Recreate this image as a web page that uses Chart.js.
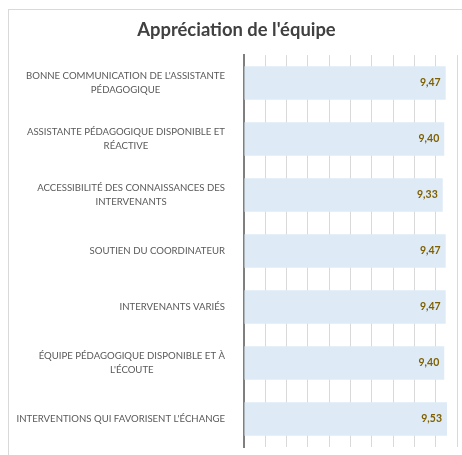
<!DOCTYPE html>
<html>
<head>
<meta charset="utf-8">
<script src="https://cdn.jsdelivr.net/npm/chart.js@4"></script>
<style>
  body { margin: 0; background: #fff; }
  #frame { position: absolute; left: 8px; top: 9px; width: 470px; height: 470px; border: 1px solid #d9d9d9; }
  #wrap { position: absolute; left: 0; top: 0; width: 462px; height: 455px; }
</style>
</head>
<body>
<div id="frame"></div>
<div id="wrap"><canvas id="chart"></canvas></div>
<script>
const categories = [
    ["BONNE COMMUNICATION DE L'ASSISTANTE", "PÉDAGOGIQUE"],
    ["ASSISTANTE PÉDAGOGIQUE DISPONIBLE ET", "RÉACTIVE"],
    ["ACCESSIBILITÉ DES CONNAISSANCES DES", "INTERVENANTS"],
    ["SOUTIEN DU COORDINATEUR"],
    ["INTERVENANTS VARIÉS"],
    ["ÉQUIPE PÉDAGOGIQUE DISPONIBLE ET À", "L'ÉCOUTE"],
    ["INTERVENTIONS QUI FAVORISENT L'ÉCHANGE"]
];
const scores = [9.47, 9.40, 9.33, 9.47, 9.47, 9.40, 9.53];
const chartTitle = "Appréciation de l'équipe";

const labelFont = "9.6px Lato";

// category labels: block right-aligned, lines centered inside the block
const categoryLabels = {
    id: "categoryLabels",
    afterDraw(chart) {
        const ctx = chart.ctx;
        const yScale = chart.scales.y;
        const right = 225;
        ctx.save();
        ctx.font = labelFont;
        ctx.fillStyle = "#595959";
        ctx.textAlign = "center";
        ctx.textBaseline = "middle";
        chart.data.labels.forEach((lines, i) => {
            const y = yScale.getPixelForTick(i);
            const blockW = Math.max(...lines.map((l) => ctx.measureText(l).width));
            const cx = right - blockW / 2;
            const lh = 14;
            lines.forEach((line, j) => {
                ctx.fillText(line, cx, y + (j - (lines.length - 1) / 2) * lh);
            });
        });
        ctx.restore();
    }
};

// value labels inside the end of each bar
const valueLabels = {
    id: "valueLabels",
    afterDatasetsDraw(chart) {
        const ctx = chart.ctx;
        const meta = chart.getDatasetMeta(0);
        ctx.save();
        ctx.font = "bold 10.5px Lato";
        ctx.fillStyle = "#7f6000";
        ctx.textAlign = "right";
        ctx.textBaseline = "middle";
        meta.data.forEach((bar, i) => {
            const text = scores[i].toFixed(2).replace(".", ",");
            ctx.fillText(text, bar.x - 5, bar.y);
        });
        ctx.restore();
    }
};

new Chart(document.getElementById("chart"), {
    type: "bar",
    data: {
        labels: categories,
        datasets: [
            {
                data: scores,
                backgroundColor: "#deebf7",
                borderWidth: 0,
                barPercentage: 0.6,
                categoryPercentage: 1
            }
        ]
    },
    plugins: [categoryLabels, valueLabels],
    options: {
        indexAxis: "y",
        responsive: true,
        maintainAspectRatio: false,
        animation: false,
        layout: {
            padding: { left: 16, right: 5, top: 0, bottom: 8 }
        },
        plugins: {
            legend: { display: false },
            tooltip: { enabled: false },
            title: {
                display: true,
                text: chartTitle,
                color: "#404040",
                font: { family: "Lato", size: 18.4, weight: "bold" },
                padding: { top: 19, bottom: 14 }
            }
        },
        scales: {
            x: {
                min: 0,
                max: 10,
                ticks: { display: false, stepSize: 1 },
                grid: { color: "#d9d9d9", drawTicks: false },
                border: { display: false }
            },
            y: {
                ticks: { display: false },
                grid: { display: false, drawTicks: false },
                border: { display: true, color: "#7f7f7f", width: 2 },
                afterFit: (scale) => { scale.width = 228; }
            }
        }
    }
});
</script>
</body>
</html>
